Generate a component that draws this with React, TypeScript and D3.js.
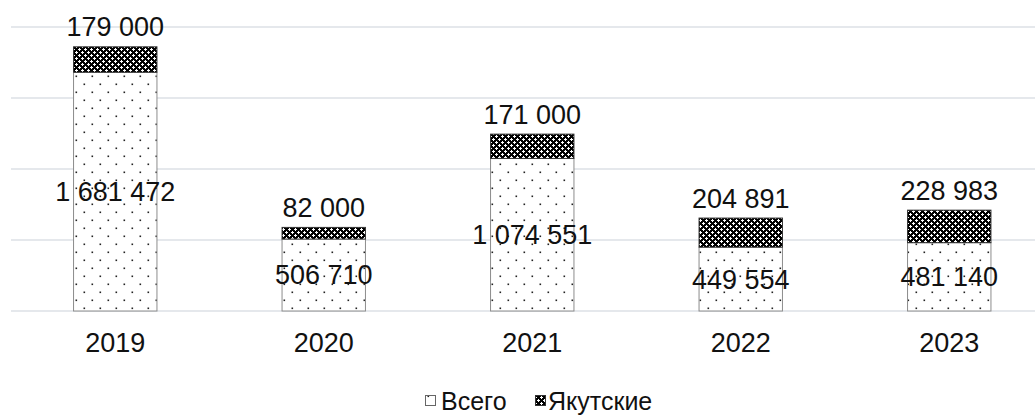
import React from "react";
import * as d3 from "d3";

const years = ["2019", "2020", "2021", "2022", "2023"];
const totalValues = [1681472, 506710, 1074551, 449554, 481140];
const yakutValues = [179000, 82000, 171000, 204891, 228983];
const gridTicks = [0, 500000, 1000000, 1500000, 2000000];
const seriesNames = ["Всего", "Якутские"];

const W = 1035;
const H = 415;
const FONT = "'Liberation Sans', Arial, sans-serif";

const fmt = (v: number) => d3.format(",")(v).replace(/,/g, " ");

export default function App() {
  const x = d3
    .scaleBand<string>()
    .domain(years)
    .range([11, 1053.5])
    .paddingInner(0.6)
    .paddingOuter(0.3);
  const y = d3.scaleLinear().domain([0, 2000000]).range([311, 27]);
  const bw = x.bandwidth();

  return (
    <svg
      width={W}
      height={H}
      style={{ position: "absolute", left: 0, top: 0, background: "#fff" }}
      fontFamily={FONT}
    >
      <defs>
        <pattern id="dots" width="16" height="16" patternUnits="userSpaceOnUse">
          <rect width="16" height="16" fill="#fff" />
          <rect x="3.5" y="3.5" width="1.6" height="1.6" fill="#222" />
          <rect x="11.5" y="11.5" width="1.6" height="1.6" fill="#222" />
        </pattern>
        <pattern id="dense" width="6" height="6" patternUnits="userSpaceOnUse">
          <rect width="6" height="6" fill="#000" />
          <rect x="1" y="0" width="1" height="3" fill="#fff" />
          <rect x="0" y="1" width="3" height="1" fill="#fff" />
          <rect x="4" y="3" width="1" height="3" fill="#fff" />
          <rect x="3" y="4" width="3" height="1" fill="#fff" />
        </pattern>
      </defs>
      {gridTicks.map((t) => (
        <line
          key={t}
          x1={11}
          x2={W}
          y1={y(t)}
          y2={y(t)}
          stroke="#dde1e6"
          strokeWidth={1.6}
        />
      ))}
      {years.map((yr, i) => {
        const x0 = x(yr)!;
        const t = totalValues[i];
        const k = yakutValues[i];
        return (
          <g key={yr}>
            <rect
              x={x0}
              y={y(t)}
              width={bw}
              height={y(0) - y(t)}
              fill="url(#dots)"
              stroke="#8c8c8c"
              strokeWidth={1}
            />
            <rect
              x={x0}
              y={y(t + k)}
              width={bw}
              height={y(t) - y(t + k)}
              fill="url(#dense)"
              stroke="#333"
              strokeWidth={1}
            />
          </g>
        );
      })}
      {years.map((yr, i) => {
        const cx = x(yr)! + bw / 2;
        const t = totalValues[i];
        const k = yakutValues[i];
        return (
          <g key={"l" + yr} fontSize={27} fill="#111" textAnchor="middle">
            <text x={cx} y={(y(0) + y(t)) / 2} dy="0.35em">
              {fmt(t)}
            </text>
            <text x={cx} y={y(t + k) - 20} dy="0.35em">
              {fmt(k)}
            </text>
            <text x={cx} y={343} dy="0.35em">
              {yr}
            </text>
          </g>
        );
      })}
      <g fontSize={25} fill="#111">
        <rect x={425.5} y={395.5} width={10} height={10} fill="url(#dots)" stroke="#666" strokeWidth={1} />
        <text x={441} y={401} dy="0.35em">
          {seriesNames[0]}
        </text>
        <rect x={535.5} y={395.5} width={10} height={10} fill="url(#dense)" stroke="#333" strokeWidth={1} />
        <text x={548} y={401} dy="0.35em">
          {seriesNames[1]}
        </text>
      </g>
    </svg>
  );
}
